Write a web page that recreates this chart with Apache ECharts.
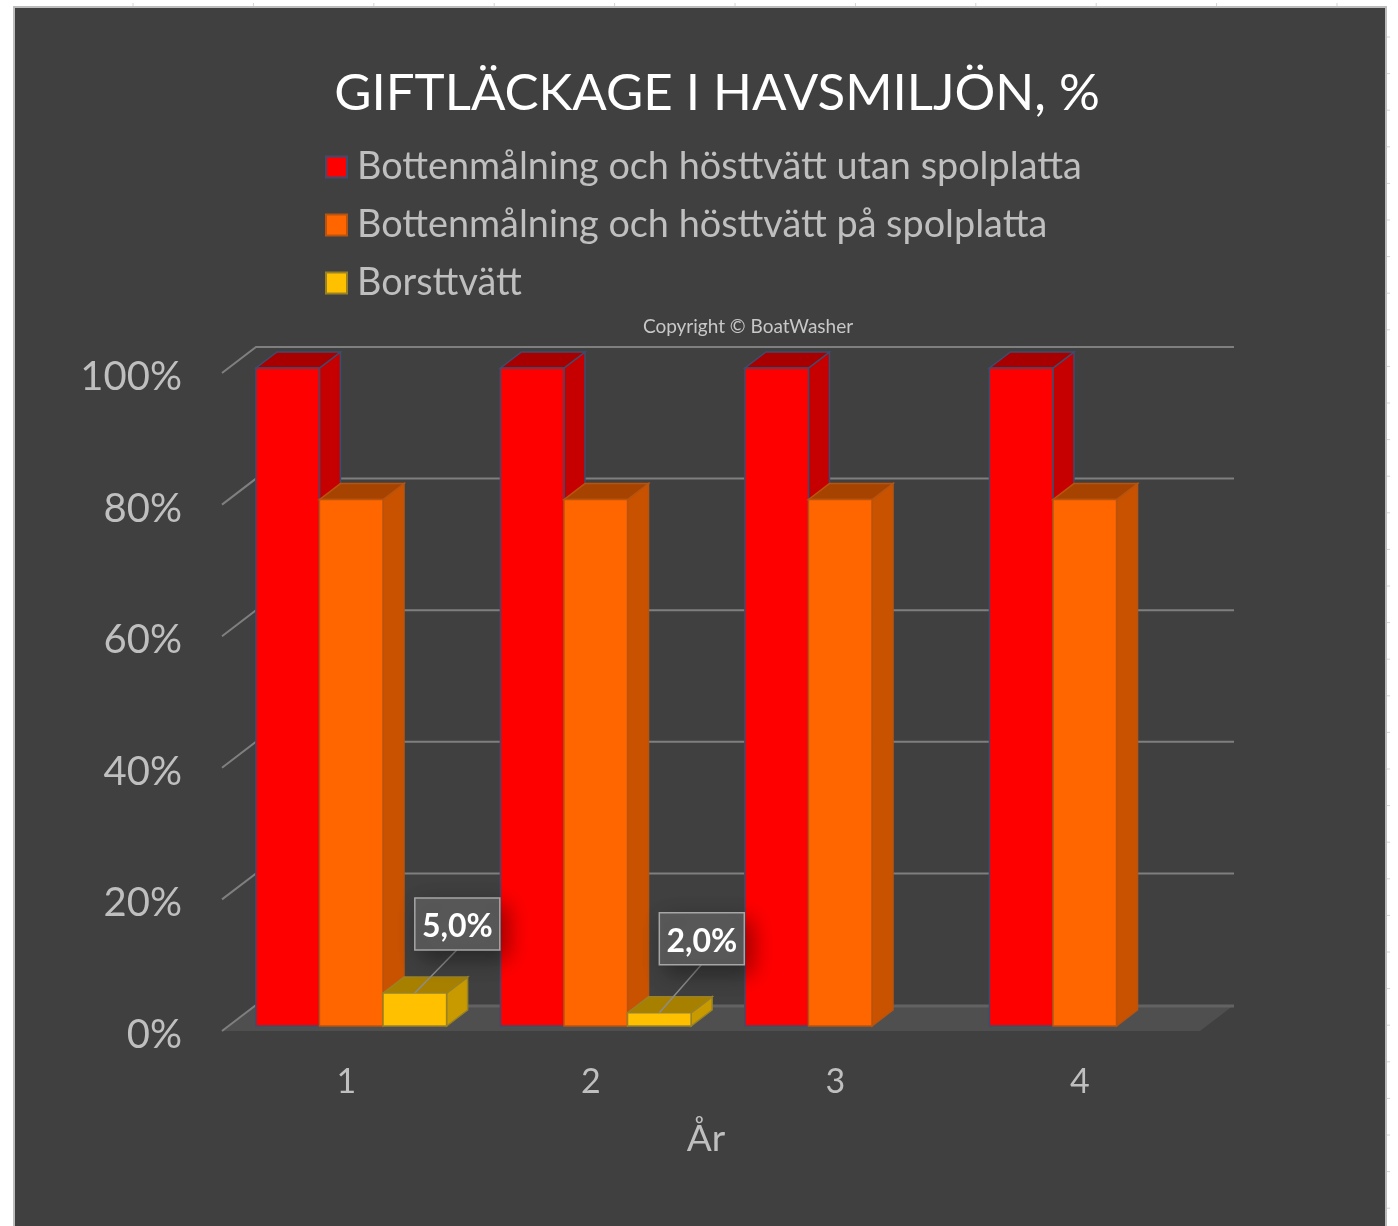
<!DOCTYPE html>
<html>
<head>
<meta charset="utf-8">
<title>Giftläckage i havsmiljön</title>
<script src="https://cdn.jsdelivr.net/npm/echarts@6/dist/echarts.min.js"></script>
<style>
	html, body { margin: 0; padding: 0; background: #fff; }
	#chart { width: 1398px; height: 1226px; }
</style>
</head>
<body>
<div id="chart"></div>
<script>
const years = ['1', '2', '3', '4'];
const utanSpolplatta = [100, 100, 100, 100];
const paSpolplatta = [80, 80, 80, 80];
const borsttvatt = [5, 2, 0, 0];
const yTicks = [0, 20, 40, 60, 80, 100];

const FONT = 'Lato';
const BAR_SHARE = 0.26;
// the bars stand a bit behind the axis plane, the wall is further back
const FRONT = [7, -5];
const DEPTH = [21, -16];
const WALL = [34, -26];
const LABEL_RISE = [95, 100];

const barColors = [
	{ front: '#ff0000', side: '#c60000', top: '#a80000', line: '#3d4c6e' },
	{ front: '#ff6600', side: '#c85200', top: '#a64300', line: '#b8540f' },
	{ front: '#ffc000', side: '#c89a00', top: '#a88000', line: '#9a8224' }
];

const pct = v => v.toFixed(1).replace('.', ',') + '%';

const barItem = seriesPos => (params, api) => {
	const value = api.value(1);
	if (!value) {
		return null;
	}
	const c = barColors[seriesPos];
	const band = api.size([1, 0])[0];
	const w = band * BAR_SHARE;
	const top = api.coord([api.value(0), value]);
	const base = api.coord([api.value(0), 0]);
	const x0 = top[0] + FRONT[0] + (seriesPos - 1.5) * w;
	const x1 = x0 + w;
	const y0 = top[1] + FRONT[1];
	const y1 = base[1] + FRONT[1];
	const [dx, dy] = DEPTH;
	const stroke = { stroke: c.line, lineWidth: 1.5 };
	const children = [
		{ type: 'polygon', shape: { points: [[x1, y0], [x1 + dx, y0 + dy], [x1 + dx, y1 + dy], [x1, y1]] }, style: { fill: c.side, ...stroke } },
		{ type: 'polygon', shape: { points: [[x0, y0], [x0 + dx, y0 + dy], [x1 + dx, y0 + dy], [x1, y0]] }, style: { fill: c.top, ...stroke } },
		{ type: 'rect', shape: { x: x0, y: y0, width: w, height: y1 - y0 }, style: { fill: c.front, ...stroke } }
	];
	if (seriesPos === 2) {
		const cx = x0 + w / 2;
		const boxTop = y0 - LABEL_RISE[params.dataIndex];
		children.push({ type: 'line', shape: { x1: cx + 42, y1: boxTop + 52, x2: cx, y2: y0 }, style: { stroke: '#8c8c8c', lineWidth: 1.5 } });
		children.push({
			type: 'rect',
			shape: { x: cx, y: boxTop, width: 85, height: 52 },
			style: { fill: '#595959', stroke: '#a6a6a6', lineWidth: 1.5, shadowBlur: 22, shadowColor: 'rgba(0,0,0,0.4)', shadowOffsetX: 7, shadowOffsetY: 8 }
		});
		children.push({
			type: 'text',
			style: { text: pct(value), x: cx + 42.5, y: boxTop + 29, fill: '#fff', font: 'bold 32px ' + FONT, align: 'center', verticalAlign: 'middle' }
		});
	}
	return { type: 'group', children: children };
};

const barSeries = (name, values, seriesPos) => ({
	name: name,
	type: 'custom',
	z: 3,
	itemStyle: { color: barColors[seriesPos].front, borderColor: barColors[seriesPos].line, borderWidth: 1 },
	encode: { x: 0, y: 1 },
	data: values.map((v, i) => [i, v]),
	renderItem: barItem(seriesPos)
});

const wallItem = (params, api) => {
	const left = params.coordSys.x;
	const right = left + params.coordSys.width;
	const p = api.coord([0, api.value(0)]);
	const y = p[1];
	const [dx, dy] = WALL;
	if (api.value(0) === 0) {
		return {
			type: 'group',
			children: [
				{ type: 'polygon', shape: { points: [[left, y], [right, y], [right + dx, y + dy], [left + dx, y + dy]] }, style: { fill: '#504f4f' } },
				{ type: 'line', shape: { x1: left + dx, y1: y + dy + 1, x2: right + dx, y2: y + dy + 1 }, style: { stroke: '#626262', lineWidth: 3 } },
				{ type: 'line', shape: { x1: left, y1: y, x2: left + dx, y2: y + dy }, style: { stroke: '#7f7f7f', lineWidth: 2 } }
			]
		};
	}
	return {
		type: 'polyline',
		shape: { points: [[left, y], [left + dx, y + dy], [right + dx, y + dy]] },
		style: { stroke: '#7f7f7f', lineWidth: 2, fill: null }
	};
};

// cell grid of the spreadsheet behind the chart
const frame = [
	{ type: 'rect', z: -10, shape: { x: 14, y: 7, width: 1372, height: 1230 }, style: { fill: '#404040', stroke: '#bdbdbd', lineWidth: 2 } }
];
for (let x = 133; x < 1398; x += 120.4) {
	frame.push({ type: 'line', z: -10, shape: { x1: x, y1: 3, x2: x, y2: 6 }, style: { stroke: '#d4d4d4', lineWidth: 1 } });
}
for (let y = 37; y < 1226; y += 36.6) {
	frame.push({ type: 'line', z: -10, shape: { x1: 1387, y1: y, x2: 1390, y2: y }, style: { stroke: '#d4d4d4', lineWidth: 1 } });
}

const chart = echarts.init(document.getElementById('chart'));
chart.setOption({
	animation: false,
	backgroundColor: '#fff',
	textStyle: { fontFamily: FONT },
	graphic: frame,
	title: [
		{
			text: 'GIFTLÄCKAGE I HAVSMILJÖN, %',
			left: 712,
			top: 63,
			textAlign: 'center',
			textStyle: { color: '#fff', fontSize: 51, fontWeight: 'normal', fontFamily: FONT }
		},
		{
			text: 'Copyright © BoatWasher',
			left: 743,
			top: 312,
			textAlign: 'center',
			textStyle: { color: '#c8c8c8', fontSize: 19, fontWeight: 'normal', fontFamily: FONT }
		}
	],
	legend: {
		orient: 'vertical',
		left: 320,
		top: 140,
		itemWidth: 21,
		itemHeight: 21,
		itemGap: 14,
		selectedMode: false,
		icon: 'rect',
		data: ['Bottenmålning och hösttvätt utan spolplatta', 'Bottenmålning och hösttvätt på spolplatta', 'Borsttvätt'],
		textStyle: { color: '#bfbfbf', fontSize: 37.8, lineHeight: 44, padding: [0, 0, 0, 5], fontFamily: FONT }
	},
	grid: { left: 222, top: 373, width: 978, height: 658 },
	xAxis: {
		type: 'category',
		data: years,
		name: 'År',
		nameLocation: 'middle',
		nameGap: 90,
		nameTextStyle: { color: '#bfbfbf', fontSize: 37, padding: [0, 10, 0, 0], fontFamily: FONT },
		axisLine: { show: false },
		axisTick: { show: false },
		axisLabel: { color: '#bfbfbf', fontSize: 34, margin: 34, padding: [0, 0, 0, 4], fontFamily: FONT }
	},
	yAxis: {
		type: 'value',
		min: 0,
		max: 100,
		interval: 20,
		axisLine: { show: false },
		axisTick: { show: false },
		splitLine: { show: false },
		axisLabel: {
			margin: 40,
			formatter: v => '{t|' + v + '%}',
			rich: { t: { color: '#bfbfbf', fontSize: 40, padding: [8, 0, 0, 0], fontFamily: FONT } }
		}
	},
	series: [
		{
			name: 'wall',
			type: 'custom',
			z: 1,
			silent: true,
			encode: { y: 0 },
			data: yTicks.map(v => [v]),
			renderItem: wallItem
		},
		barSeries('Bottenmålning och hösttvätt utan spolplatta', utanSpolplatta, 0),
		barSeries('Bottenmålning och hösttvätt på spolplatta', paSpolplatta, 1),
		barSeries('Borsttvätt', borsttvatt, 2)
	]
});
</script>
</body>
</html>
